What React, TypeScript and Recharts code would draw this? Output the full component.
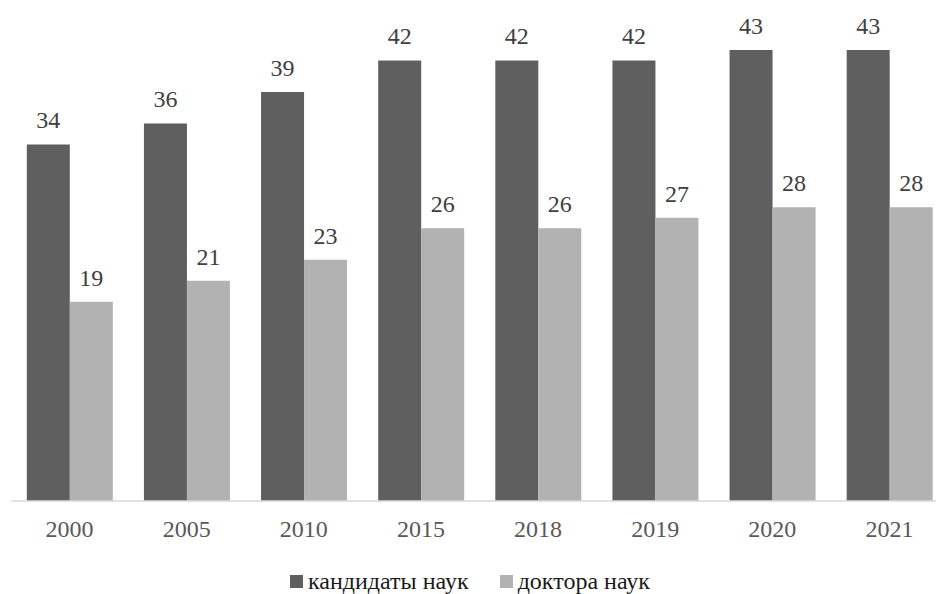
import React from 'react';
import { BarChart, Bar, XAxis, YAxis, LabelList, Legend } from 'recharts';

const years = ['2000', '2005', '2010', '2015', '2018', '2019', '2020', '2021'];
const candidates = [34, 36, 39, 42, 42, 42, 43, 43];
const doctors = [19, 21, 23, 26, 26, 27, 28, 28];

const seriesNames = ['кандидаты наук', 'доктора наук'];
const seriesColors = ['#5f5f5f', '#b2b2b2'];

const data = years.map((year, i) => ({
    year,
    candidates: candidates[i],
    doctors: doctors[i],
}));

const FONT = 'Liberation Serif';

const LegendContent = () => (
    <div
        style={{
            width: 918,
            height: 43,
            paddingTop: 17,
            boxSizing: 'border-box',
            display: 'flex',
            justifyContent: 'center',
            fontFamily: FONT,
            fontSize: 24,
            color: '#1a1a1a',
            lineHeight: '24px',
        }}
    >
        {seriesNames.map((name, i) => (
            <div key={name} style={{ display: 'flex', alignItems: 'center', marginRight: i === 0 ? 31 : 0 }}>
                <span style={{ width: 13, height: 13, background: seriesColors[i], marginRight: 5, display: 'inline-block' }} />
                <span>{name}</span>
            </div>
        ))}
    </div>
);

export default function App() {
    return (
        <div style={{ position: 'fixed', top: 0, left: 0, width: 936, height: 594, overflow: 'hidden', background: '#fff' }}>
            <div style={{ position: 'absolute', top: 8, left: 8 }}>
                <BarChart
                    width={940}
                    height={586}
                    data={data}
                    margin={{ top: 21, right: 0, left: 3, bottom: 0 }}
                    barCategoryGap="13.5%"
                    barGap={0}
                >
                    <XAxis
                        dataKey="year"
                        height={50}
                        tickLine={false}
                        tickMargin={13}
                        axisLine={{ stroke: '#d9d9d9', strokeWidth: 1.5 }}
                        tick={{ fill: '#595959', fontSize: 24, fontFamily: FONT }}
                    />
                    <YAxis hide domain={[0, 45]} />
                    <Legend verticalAlign="bottom" content={<LegendContent />} />
                    <Bar dataKey="candidates" name={seriesNames[0]} fill={seriesColors[0]} isAnimationActive={false}>
                        <LabelList dataKey="candidates" position="top" offset={16} fill="#404040" fontSize={24} fontFamily={FONT} />
                    </Bar>
                    <Bar dataKey="doctors" name={seriesNames[1]} fill={seriesColors[1]} isAnimationActive={false}>
                        <LabelList dataKey="doctors" position="top" offset={16} fill="#404040" fontSize={24} fontFamily={FONT} />
                    </Bar>
                </BarChart>
            </div>
        </div>
    );
}
